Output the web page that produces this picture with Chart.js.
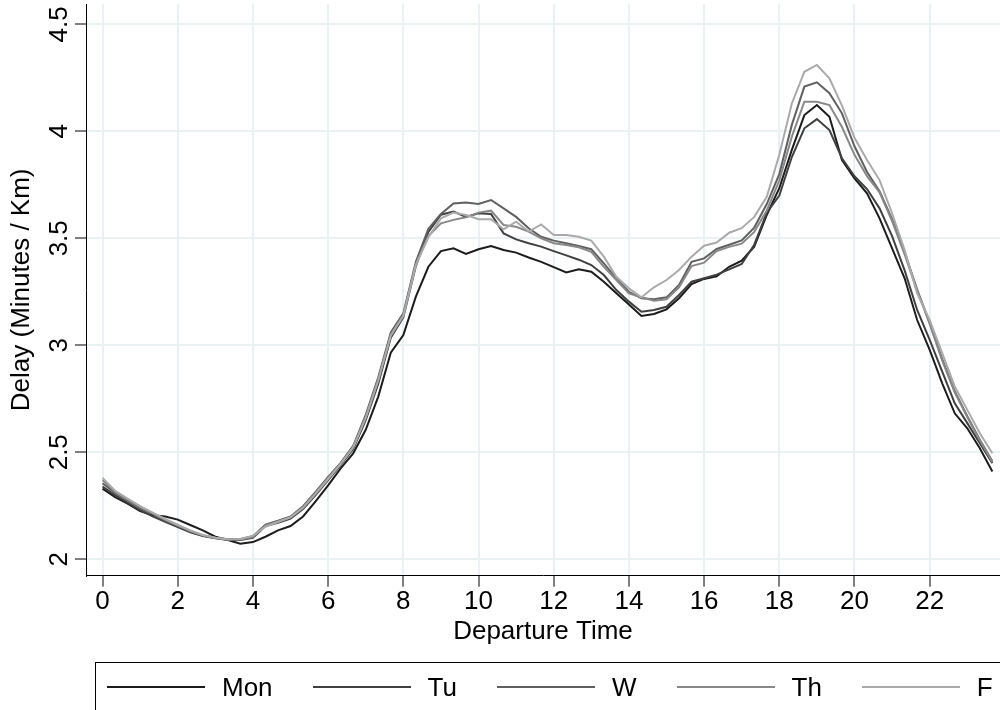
<!DOCTYPE html>
<html>
<head>
<meta charset="utf-8">
<script src="https://cdn.jsdelivr.net/npm/chart.js@4.4.0/dist/chart.umd.min.js"></script>
<style>
  html, body { margin: 0; padding: 0; background: #fff; }
  #wrap { position: relative; width: 1000px; height: 710px; overflow: hidden; }
  #legend {
    position: absolute; left: 95px; top: 662px; width: 940px; height: 80px;
    border: 1px solid #000; box-sizing: border-box;
  }
  #legend .row {
    position: absolute; left: 11px; top: 12px; height: 24px;
    display: flex; align-items: center; white-space: nowrap;
    font: 26px 'Liberation Sans', Arial, Helvetica, sans-serif; color: #000;
  }
  #legend .item { display: flex; align-items: center; margin-right: 40px; }
  #legend .swatch { width: 98px; height: 2px; margin-right: 17px; }
</style>
</head>
<body>
<div id="wrap">
  <canvas id="chart" width="1000" height="710"></canvas>
  <div id="legend"><div class="row" id="legendRow"></div></div>
</div>
<script>
const FONT = "'Liberation Sans', Arial, Helvetica, sans-serif";

// departure times, every 20 minutes
const departures = [
  '0:00', '0:20', '0:40', '1:00', '1:20', '1:40', '2:00', '2:20', '2:40', '3:00', '3:20', '3:40',
  '4:00', '4:20', '4:40', '5:00', '5:20', '5:40', '6:00', '6:20', '6:40', '7:00', '7:20', '7:40',
  '8:00', '8:20', '8:40', '9:00', '9:20', '9:40', '10:00', '10:20', '10:40', '11:00', '11:20', '11:40',
  '12:00', '12:20', '12:40', '13:00', '13:20', '13:40', '14:00', '14:20', '14:40', '15:00', '15:20', '15:40',
  '16:00', '16:20', '16:40', '17:00', '17:20', '17:40', '18:00', '18:20', '18:40', '19:00', '19:20', '19:40',
  '20:00', '20:20', '20:40', '21:00', '21:20', '21:40', '22:00', '22:20', '22:40', '23:00', '23:20', '23:40'
];

// delay in minutes per km
const mon = [
  2.33, 2.29, 2.26, 2.225, 2.205, 2.20, 2.185, 2.16, 2.135, 2.105, 2.09, 2.072,
  2.08, 2.105, 2.135, 2.155, 2.20, 2.27, 2.345, 2.425, 2.495, 2.605, 2.76, 2.965,
  3.048, 3.227, 3.367, 3.44, 3.453, 3.427, 3.449, 3.464, 3.445, 3.433, 3.41, 3.39,
  3.365, 3.34, 3.355, 3.344, 3.297, 3.243, 3.19, 3.137, 3.146, 3.168, 3.22, 3.286,
  3.31, 3.322, 3.367, 3.395, 3.461, 3.609, 3.734, 3.913, 4.076, 4.123, 4.068, 3.866,
  3.78, 3.71, 3.593, 3.453, 3.313, 3.118, 2.978, 2.822, 2.682, 2.612, 2.519, 2.41
];
const tue = [
  2.34, 2.30, 2.265, 2.23, 2.20, 2.175, 2.15, 2.126, 2.108, 2.098, 2.09, 2.09,
  2.10, 2.155, 2.17, 2.19, 2.235, 2.30, 2.37, 2.44, 2.515, 2.65, 2.82, 3.035,
  3.13, 3.37, 3.53, 3.61, 3.625, 3.60, 3.617, 3.614, 3.523, 3.495, 3.477, 3.461,
  3.44, 3.42, 3.40, 3.375, 3.328, 3.258, 3.204, 3.157, 3.165, 3.18, 3.235, 3.297,
  3.313, 3.33, 3.355, 3.38, 3.47, 3.62, 3.70, 3.88, 4.014, 4.057, 4.006, 3.874,
  3.79, 3.73, 3.64, 3.51, 3.35, 3.165, 3.025, 2.877, 2.729, 2.636, 2.542, 2.449
];
const wed = [
  2.355, 2.31, 2.275, 2.24, 2.212, 2.18, 2.155, 2.13, 2.11, 2.10, 2.093, 2.095,
  2.108, 2.162, 2.18, 2.20, 2.248, 2.315, 2.385, 2.45, 2.53, 2.675, 2.85, 3.06,
  3.15, 3.39, 3.545, 3.614, 3.663, 3.667, 3.66, 3.679, 3.64, 3.60, 3.547, 3.507,
  3.489, 3.477, 3.464, 3.449, 3.383, 3.313, 3.25, 3.22, 3.215, 3.224, 3.282, 3.39,
  3.406, 3.45, 3.47, 3.49, 3.55, 3.66, 3.80, 4.03, 4.209, 4.229, 4.178, 4.084,
  3.93, 3.81, 3.72, 3.59, 3.435, 3.26, 3.105, 2.935, 2.785, 2.668, 2.558, 2.458
];
const thu = [
  2.37, 2.315, 2.28, 2.245, 2.215, 2.185, 2.16, 2.132, 2.112, 2.10, 2.093, 2.092,
  2.104, 2.158, 2.176, 2.196, 2.243, 2.31, 2.38, 2.447, 2.525, 2.665, 2.84, 3.05,
  3.14, 3.38, 3.51, 3.57, 3.586, 3.598, 3.62, 3.629, 3.562, 3.554, 3.531, 3.50,
  3.477, 3.469, 3.458, 3.437, 3.367, 3.305, 3.243, 3.224, 3.208, 3.215, 3.271, 3.37,
  3.386, 3.44, 3.46, 3.475, 3.53, 3.63, 3.77, 3.975, 4.138, 4.138, 4.123, 4.02,
  3.89, 3.79, 3.715, 3.58, 3.425, 3.255, 3.10, 2.928, 2.78, 2.664, 2.555, 2.455
];
const fri = [
  2.38, 2.32, 2.283, 2.248, 2.218, 2.188, 2.16, 2.135, 2.113, 2.10, 2.092, 2.094,
  2.11, 2.152, 2.174, 2.196, 2.24, 2.305, 2.375, 2.445, 2.522, 2.66, 2.835, 3.045,
  3.138, 3.375, 3.505, 3.593, 3.62, 3.609, 3.589, 3.589, 3.542, 3.578, 3.531, 3.565,
  3.515, 3.515, 3.507, 3.489, 3.414, 3.32, 3.266, 3.224, 3.271, 3.305, 3.352, 3.414,
  3.465, 3.48, 3.526, 3.547, 3.60, 3.694, 3.89, 4.13, 4.278, 4.31, 4.248, 4.12,
  3.97, 3.866, 3.772, 3.617, 3.445, 3.243, 3.118, 2.963, 2.807, 2.698, 2.589, 2.495
];

const dayNames = ['Mon', 'Tu', 'W', 'Th', 'F'];
const dayColors = ['#1c1c1c', '#404040', '#606060', '#888888', '#aaaaaa'];
const xTicks = [0, 2, 4, 6, 8, 10, 12, 14, 16, 18, 20, 22];
const yTicks = [2, 2.5, 3, 3.5, 4, 4.5];
const yTickLabels = ['2', '2.5', '3', '3.5', '4', '4.5'];

const hours = departures.map(t => {
  const [h, m] = t.split(':').map(Number);
  return h + m / 60;
});

const series = [mon, tue, wed, thu, fri];
const datasets = series.map((vals, i) => ({
  label: dayNames[i],
  data: vals.map((v, j) => ({ x: hours[j], y: v })),
  borderColor: dayColors[i],
  backgroundColor: dayColors[i],
  borderWidth: 2,
  pointRadius: 0,
  tension: 0,
  order: series.length - i
}));

// rotated y tick labels, as Stata draws them
const yLabels = {
  id: 'yLabels',
  afterDraw(chart) {
    const s = chart.scales.y;
    const ctx = chart.ctx;
    ctx.save();
    ctx.font = '26px ' + FONT;
    ctx.fillStyle = '#000';
    ctx.textAlign = 'center';
    ctx.textBaseline = 'alphabetic';
    s.ticks.forEach((t, i) => {
      const y = s.getPixelForValue(t.value);
      ctx.save();
      ctx.translate(s.right - s.options.grid.tickLength - 8.5, y);
      ctx.rotate(-Math.PI / 2);
      ctx.fillText(yTickLabels[i], 0, 0);
      ctx.restore();
    });
    ctx.restore();
  }
};

new Chart(document.getElementById('chart'), {
  type: 'line',
  data: { datasets },
  plugins: [yLabels],
  options: {
    responsive: false,
    animation: false,
    layout: { padding: { top: 4, right: 0, bottom: 60, left: 0 } },
    plugins: { legend: { display: false }, tooltip: { enabled: false } },
    scales: {
      x: {
        type: 'linear',
        min: -0.44,
        max: 23.87,
        afterBuildTicks: s => { s.ticks = xTicks.map(v => ({ value: v })); },
        afterFit: s => { s.height = 74.3; },
        grid: { color: '#eaf1f3', lineWidth: 2, tickColor: '#000', tickWidth: 1, tickLength: 11 },
        border: { color: '#000', width: 1 },
        ticks: { color: '#000', font: { family: FONT, size: 26 }, padding: 0, maxRotation: 0 },
        title: {
          display: true, text: 'Departure Time', color: '#000',
          font: { family: FONT, size: 26 }, padding: { top: 0, bottom: 3 }
        }
      },
      y: {
        min: 1.923,
        max: 4.595,
        afterBuildTicks: s => { s.ticks = yTicks.map(v => ({ value: v })); },
        afterFit: s => { s.width = 86; },
        grid: { color: '#eaf1f3', lineWidth: 2, tickColor: '#000', tickWidth: 1, tickLength: 11 },
        border: { color: '#000', width: 1 },
        ticks: { display: false },
        title: {
          display: true, text: 'Delay (Minutes / Km)', color: '#000',
          font: { family: FONT, size: 26 }, padding: { top: 6, bottom: 0 }
        }
      }
    }
  }
});

// legend row
const row = document.getElementById('legendRow');
dayNames.forEach((name, i) => {
  const item = document.createElement('div');
  item.className = 'item';
  const sw = document.createElement('span');
  sw.className = 'swatch';
  sw.style.background = dayColors[i];
  const txt = document.createElement('span');
  txt.textContent = name;
  item.appendChild(sw);
  item.appendChild(txt);
  row.appendChild(item);
});
</script>
</body>
</html>
